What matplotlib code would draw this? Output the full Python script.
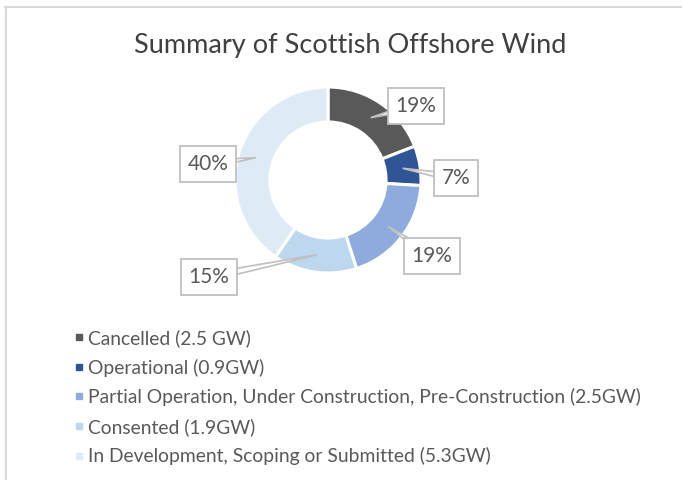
import numpy as np
import matplotlib
matplotlib.use("Agg")
import matplotlib.pyplot as plt
from matplotlib.lines import Line2D
from matplotlib.patches import Polygon

plt.rcParams['font.family'] = ['Lato', 'DejaVu Sans']

# ---- data ----
categories = ["Cancelled (2.5 GW)", "Operational (0.9GW)",
              "Partial Operation, Under Construction, Pre-Construction (2.5GW)",
              "Consented (1.9GW)", "In Development, Scoping or Submitted (5.3GW)"]
values_gw = [2.5, 0.9, 2.5, 1.9, 5.3]
pct_labels = ["19%", "7%", "19%", "15%", "40%"]
colors = ["#595959", "#2F5597", "#8FAADC", "#BDD7EE", "#DEEBF7"]
# label box centres (layout, in units of outer radius)
label_pos = [(0.946, 0.796), (1.376, 0.022), (1.118, -0.817),
             (-1.28, -1.043), (-1.29, 0.172)]

W, H = 682, 480
fig = plt.figure(figsize=(W / 100, H / 100), dpi=100)

# frame lines (top and left)
fig.add_artist(Line2D([5 / W, 1], [1 - 6.5 / H, 1 - 6.5 / H], transform=fig.transFigure,
                      color="#D9D9D9", lw=1.5))
fig.add_artist(Line2D([5.5 / W, 5.5 / W], [0, 1 - 6.5 / H], transform=fig.transFigure,
                      color="#D9D9D9", lw=1.5))

fig.text(350 / W, 1 - 45 / H, "Summary of Scottish Offshore Wind", ha="center", va="center",
         fontsize=19.5, color="#404040")

# donut axes: centre (328,180) px, radius 93 px
R = 93.0
half = 170.0
cx, cy = 328.0, 180.0
ax = fig.add_axes([(cx - half) / W, (H - cy - half) / H, 2 * half / W, 2 * half / H])

ring = 0.376
wedges, _ = ax.pie(values_gw, colors=colors, startangle=90, counterclock=False, radius=1,
                   wedgeprops=dict(width=ring, edgecolor="white", linewidth=2.2))
ax.set_xlim(-half / R, half / R)
ax.set_ylim(-half / R, half / R)
ax.set_aspect("equal")
ax.axis("off")

rmid = 1 - ring / 2
for w, lab, (lx, ly) in zip(wedges, pct_labels, label_pos):
    ang = np.deg2rad((w.theta1 + w.theta2) / 2)
    tx, ty = rmid * np.cos(ang), rmid * np.sin(ang)
    d = np.array([lx - tx, ly - ty])
    n = np.array([-d[1], d[0]]) / np.hypot(*d)
    hw = 4.0 / R
    tri = Polygon([(tx, ty), (lx + n[0] * hw, ly + n[1] * hw), (lx - n[0] * hw, ly - n[1] * hw)],
                  closed=True, facecolor="white", edgecolor="#BFBFBF", lw=1.2, zorder=3)
    ax.add_patch(tri)
    ax.text(lx, ly, lab, ha="center", va="center", fontsize=15, color="#595959", zorder=5,
            bbox=dict(boxstyle="square,pad=0.38", facecolor="white", edgecolor="#BFBFBF", lw=1.3))

handles = [Line2D([], [], marker="s", linestyle="none", markersize=4.0, color=c) for c in colors]
leg = fig.legend(handles, categories, loc="upper left",
                 bbox_to_anchor=(76 / W, 1 - 329 / H), frameon=False, fontsize=13.9,
                 labelcolor="#595959", handlelength=0.3, handletextpad=0.31,
                 labelspacing=0.6, borderaxespad=0, borderpad=0)

fig.savefig("out.png", dpi=100, facecolor="white")
